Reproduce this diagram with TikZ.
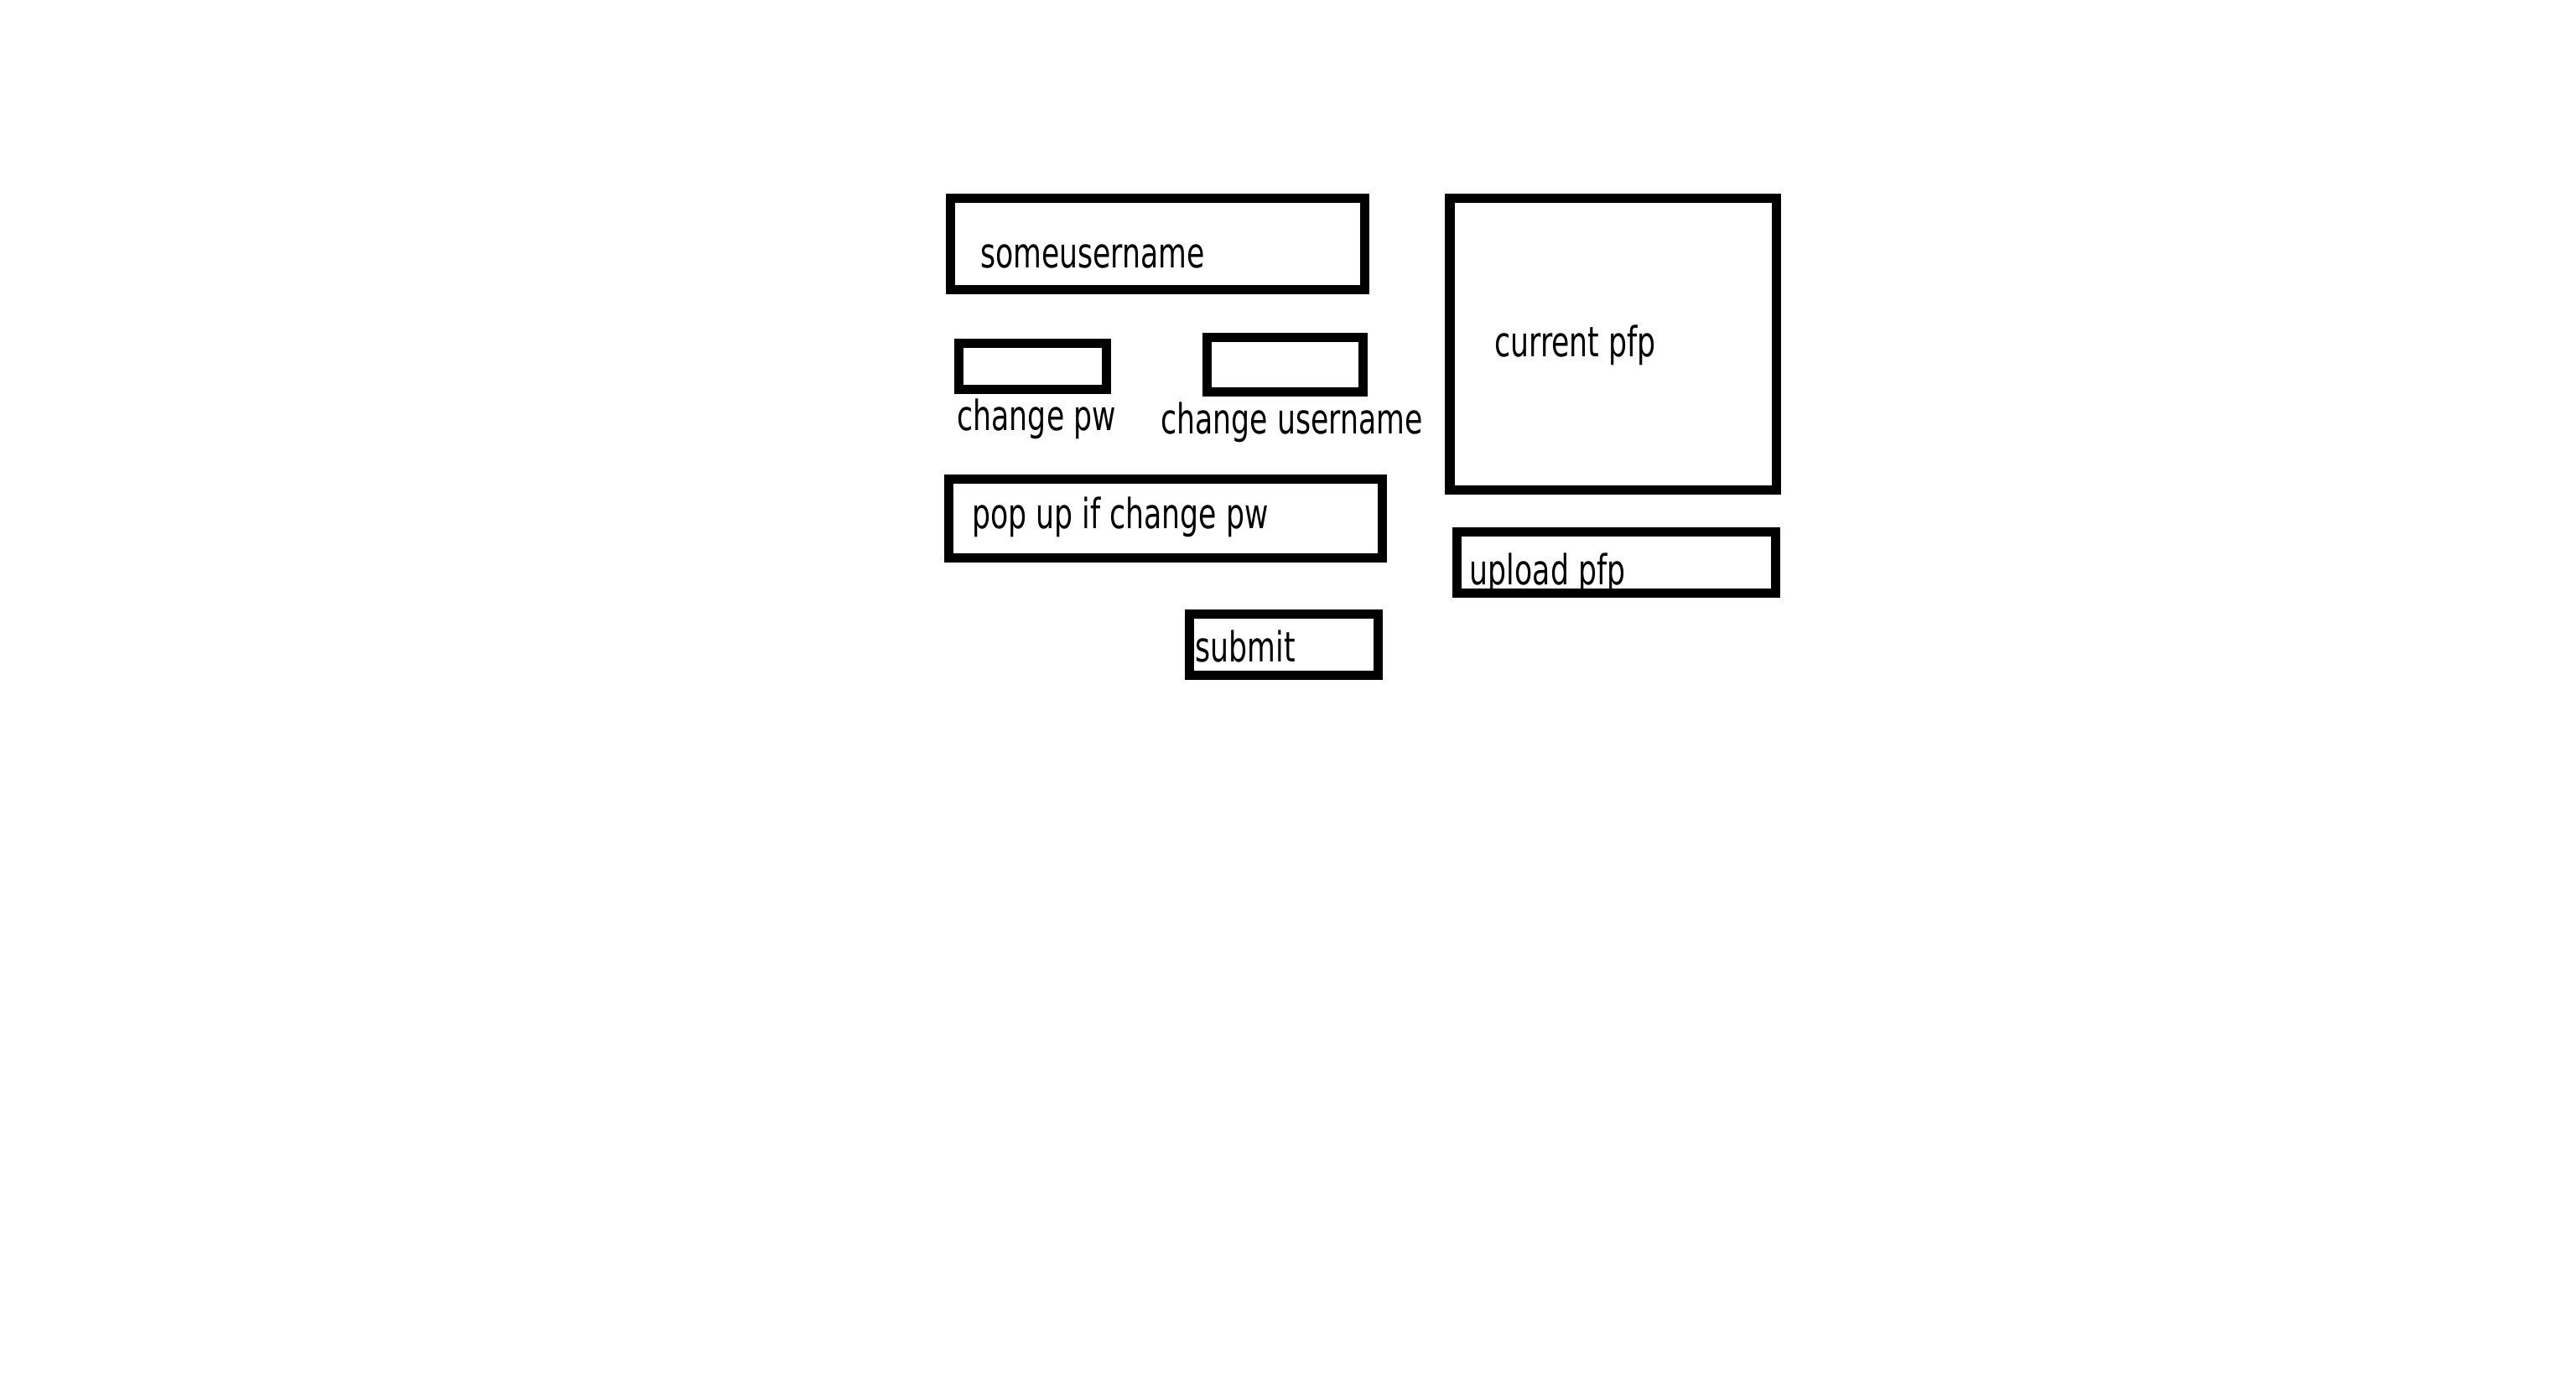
\documentclass[tikz,border=0pt]{standalone}
\usepackage{fontspec}
\setmainfont[FakeStretch=0.7]{DejaVu Sans}
\usepackage{tikz}

\begin{document}
\begin{tikzpicture}[x=0.1mm, y=0.1mm,
        box/.style={draw, line width=1.6pt, inner sep=0pt},
        lbl/.style={anchor=base west, inner sep=0pt, font=\fontsize{7.2}{8}\selectfont}]
        \useasboundingbox (0, 0) rectangle (1568, -849);
        \node[box, minimum width=2.52cm, minimum height=0.56cm] (user) at (704.5, -148.5) {};
        \node[box, minimum width=0.90cm, minimum height=0.28cm] (pwbox) at (628.5, -223) {};
        \node[box, minimum width=0.95cm, minimum height=0.33cm] (namebox) at (782, -222) {};
        \node[box, minimum width=1.99cm, minimum height=1.78cm] (pfp) at (982, -209.5) {};
        \node[box, minimum width=2.64cm, minimum height=0.48cm] (popup) at (709.5, -315.5) {};
        \node[box, minimum width=1.94cm, minimum height=0.37cm] (upload) at (984, -342.5) {};
        \node[box, minimum width=1.15cm, minimum height=0.37cm] (submit) at (781.5, -392.5) {};
        \node[lbl] (usertext) at (596, -163) {someusername};
        \node[lbl] (pwtext) at (582, -262) {change pw};
        \node[lbl] (nametext) at (706, -264) {change username};
        \node[lbl] (pfptext) at (909, -217) {current pfp};
        \node[lbl] (popuptext) at (591, -322) {pop up if change pw};
        \node[lbl] (uploadtext) at (894, -356) {upload pfp};
        \node[lbl] (submittext) at (727, -403) {submit};
        \end{tikzpicture}
\end{document}
